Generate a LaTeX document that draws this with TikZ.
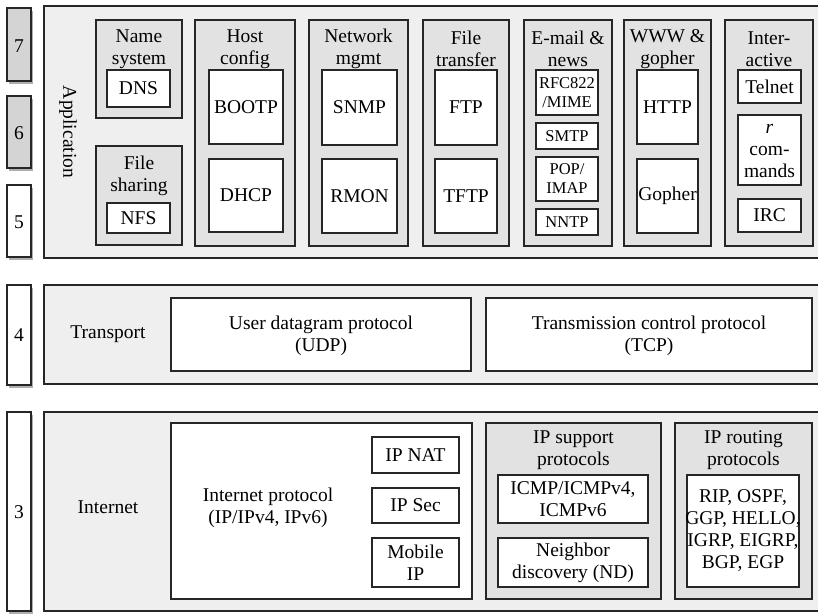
\documentclass[tikz,border=0pt]{standalone}
\usepackage{fontspec}
\setmainfont{Liberation Serif}
\definecolor{tcpline}{RGB}{38,38,38}
\definecolor{tcplayer}{RGB}{239,239,239}
\definecolor{tcpgroup}{RGB}{226,226,226}
\definecolor{tcpnum}{RGB}{212,212,212}
\definecolor{tcpshadow}{RGB}{175,175,175}
\usetikzlibrary{shadows}
\tikzset{
  layerbox/.style={fill=tcplayer,draw=tcpline,line width=1.8pt},
  groupbox/.style={fill=tcpgroup,draw=tcpline,line width=2.4pt},
  protobox/.style={fill=white,draw=tcpline,line width=2.4pt},
  numbox/.style={draw=tcpline,line width=2pt,drop shadow={shadow xshift=1.5pt,shadow yshift=-3pt,fill=tcpshadow,opacity=1}},
  lbl/.style={font=\fontsize{19.5}{22}\selectfont,align=center,inner sep=0pt},
  smalllbl/.style={font=\fontsize{16.5}{19}\selectfont,align=center,inner sep=0pt}
}

\begin{document}
\begin{tikzpicture}[x=1pt,y=-1pt]
  \useasboundingbox (0,0) rectangle (818,613);
  \clip (0,0) rectangle (818,613);
  % layer numbers
  \draw[numbox,fill=tcpnum] (7,8) rectangle (31,81);
  \node[lbl] (n7) at (19,46) {7};
  \draw[numbox,fill=tcpnum] (7,96) rectangle (31,168);
  \node[lbl] (n6) at (19,133) {6};
  \draw[numbox,fill=white] (7,185) rectangle (31,257);
  \node[lbl] (n5) at (19,222) {5};
  \draw[numbox,fill=white] (7,285) rectangle (31,385);
  \node[lbl] (n4) at (19,335) {4};
  \draw[numbox,fill=white] (7,412) rectangle (31,611);
  \node[lbl] (n3) at (19,512) {3};

  % application layer
  \draw[layerbox] (44,6) rectangle (830,258);
  \node[lbl,rotate=-90] (app) at (68,132) {Application};
  \draw[groupbox] (96,20) rectangle (182,118);
  \node[lbl] (namesys) at (139,49) {Name\\system};
  \draw[protobox] (107,70) rectangle (170,107);
  \node[lbl] (dns) at (138.5,88.5) {DNS};
  \draw[groupbox] (96,146) rectangle (182,245);
  \node[lbl] (fileshr) at (139,176) {File\\sharing};
  \draw[protobox] (107,203) rectangle (170,233);
  \node[lbl] (nfs) at (138.5,218) {NFS};
  \draw[groupbox] (195,20) rectangle (295,246);
  \node[lbl] (hostcfg) at (245,49) {Host\\config};
  \draw[protobox] (209,70) rectangle (283,144);
  \node[lbl] (bootp) at (246,107) {BOOTP};
  \draw[protobox] (209,159) rectangle (283,232);
  \node[lbl] (dhcp) at (246,195.5) {DHCP};
  \draw[groupbox] (309,20) rectangle (408,246);
  \node[lbl] (netmgmt) at (358.5,49) {Network\\mgmt};
  \draw[protobox] (322,70) rectangle (397,145);
  \node[lbl] (snmp) at (359.5,107.5) {SNMP};
  \draw[protobox] (322,159) rectangle (397,233);
  \node[lbl] (rmon) at (359.5,196) {RMON};
  \draw[groupbox] (423,20) rectangle (509,246);
  \node[lbl] (filexfer) at (466,49) {File\\transfer};
  \draw[protobox] (435,70) rectangle (497,145);
  \node[lbl] (ftp) at (466,107.5) {FTP};
  \draw[protobox] (435,159) rectangle (497,233);
  \node[lbl] (tftp) at (466,196) {TFTP};
  \draw[groupbox] (524,20) rectangle (612,246);
  \node[lbl] (email) at (568,49) {E-mail \&\\news};
  \draw[protobox] (536,70) rectangle (598,115);
  \node[smalllbl] (rfc822) at (567,92.5) {RFC822\\/MIME};
  \draw[protobox] (536,123) rectangle (598,149);
  \node[smalllbl] (smtp) at (567,136) {SMTP};
  \draw[protobox] (536,157) rectangle (598,201);
  \node[smalllbl] (popimap) at (567,179) {POP/\\IMAP};
  \draw[protobox] (536,209) rectangle (598,235);
  \node[smalllbl] (nntp) at (567,222) {NNTP};
  \draw[groupbox] (624,20) rectangle (711,246);
  \node[lbl] (www) at (667.5,49) {WWW \&\\gopher};
  \draw[protobox] (637,70) rectangle (698,144);
  \node[lbl] (http) at (667.5,107) {HTTP};
  \draw[protobox] (637,159) rectangle (698,233);
  \node[lbl] (gopher) at (667.5,196) {Gopher};
  \draw[groupbox] (725,20) rectangle (813,246);
  \node[lbl] (inter) at (769,49) {Inter-\\active};
  \draw[protobox] (738,70) rectangle (801,103);
  \node[lbl] (telnet) at (769.5,86.5) {Telnet};
  \draw[protobox] (738,115) rectangle (801,185);
  \node[lbl] (rcmds) at (769.5,151) {\textit{r}\\com-\\mands};
  \draw[protobox] (738,199) rectangle (801,232);
  \node[lbl] (irc) at (769.5,215.5) {IRC};

  % transport layer
  \draw[layerbox] (44,285) rectangle (830,384);
  \node[lbl] (transp) at (108,334) {Transport};
  \draw[protobox] (171,298) rectangle (471,371);
  \node[lbl] (udp) at (321,335.5) {User datagram protocol\\(UDP)};
  \draw[protobox] (486,298) rectangle (812,371);
  \node[lbl] (tcp) at (649,335.5) {Transmission control protocol\\(TCP)};

  % internet layer
  \draw[layerbox] (44,412) rectangle (830,611);
  \node[lbl] (inet) at (108,507) {Internet};
  \draw[protobox] (171,423) rectangle (472,599);
  \node[lbl] (ip) at (268,508) {Internet protocol\\(IP/IPv4, IPv6)};
  \draw[protobox] (372,437) rectangle (459,473);
  \node[lbl] (ipnat) at (415.5,455) {IP NAT};
  \draw[protobox] (372,488) rectangle (459,523);
  \node[lbl] (ipsec) at (415.5,505.5) {IP Sec};
  \draw[protobox] (372,538) rectangle (459,587);
  \node[lbl] (mobip) at (415.5,562.5) {Mobile\\IP};
  \draw[groupbox] (486,423) rectangle (661,599);
  \node[lbl] (ipsup) at (573.5,450) {IP support\\protocols};
  \draw[protobox] (498,475) rectangle (648,523);
  \node[lbl] (icmp) at (573,499) {ICMP/ICMPv4,\\ICMPv6};
  \draw[protobox] (498,538) rectangle (648,587);
  \node[lbl] (nd) at (573,562.5) {Neighbor\\discovery (ND)};
  \draw[groupbox] (675,423) rectangle (812,599);
  \node[lbl] (iprout) at (743.5,450) {IP routing\\protocols};
  \draw[protobox] (687,475) rectangle (799,587);
  \node[lbl] (routing) at (743,531) {RIP, OSPF,\\GGP, HELLO,\\IGRP, EIGRP,\\BGP, EGP};
\end{tikzpicture}
\end{document}
